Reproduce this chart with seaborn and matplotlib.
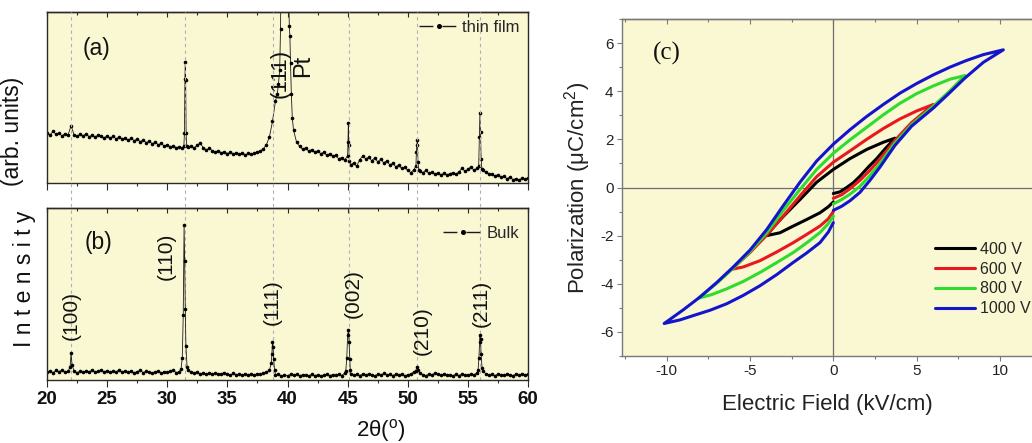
import numpy as np
import pandas as pd
import matplotlib
matplotlib.use("Agg")
import matplotlib.pyplot as plt
import seaborn as sns
from matplotlib.lines import Line2D
from matplotlib.ticker import MultipleLocator

# ---------------- data: XRD ----------------
scan_start, scan_step = 20.0, 0.25   # regular 2theta grid of the baseline readings

film_base = [
    29.5, 28.0, 30.2, 28.6,  29.0, 27.6, 28.9, 28.1,  33.5, 28.3, 27.2, 28.7,
    27.6, 28.8, 27.1, 28.0,  26.8, 28.1, 27.3, 26.4,  27.5, 26.2, 27.4, 25.8,
    26.9, 25.6, 26.3, 25.0,  26.1, 24.8, 25.7, 24.2,  25.2, 23.6, 24.5, 23.0,
    23.9, 22.4, 23.1, 21.6,  22.4, 21.0, 21.9, 20.6,  21.3, 20.2, 71.0, 21.0,
    21.8, 20.4, 22.3, 23.2,  20.6, 19.4, 20.3, 18.9,  18.2, 19.0, 17.6, 18.4,
    17.2, 18.1, 17.0, 17.8,  16.8, 17.6, 16.5, 17.3,  16.7, 17.5, 18.2, 18.8,
    20.0, 22.5, 27.0, 36.0,  48.0, 58.0, 150.0, 140.0, 145.0, 70.0, 31.0, 24.0,
    21.5, 19.8, 20.6, 18.7,  19.5, 18.0, 18.8, 17.2,  17.9, 16.4, 17.0, 15.6,
    16.1, 14.2, 14.9, 13.3,  16.0, 10.6, 11.8, 9.8,   13.6, 15.8, 14.2, 15.0,
    13.1, 14.6, 12.4, 13.9,  11.8, 12.9, 10.7, 11.5,  9.6, 10.4, 8.5, 9.1,
    7.4, 6.1, 7.6, 22.0,     6.9, 6.0, 7.4, 5.6,      6.3, 5.1, 5.9, 4.8,
    5.6, 4.6, 5.5, 6.1,      5.2, 6.3, 8.7, 6.9,      8.0, 9.5, 7.4, 8.6,
    41.0, 7.4, 6.2, 5.4,     5.0, 4.2, 4.9, 3.6,      3.9, 2.6, 3.4, 2.0,
    2.6, 1.7, 2.9, 2.2,      3.0,
]
film_peak_x = [31.38, 31.43, 31.47, 31.53, 31.57, 31.62,
               39.15, 39.35, 39.42, 40.15, 40.2, 40.32, 40.4,
               45.03, 45.06, 45.1, 45.15,
               50.68, 50.72, 50.8, 50.85, 50.92,
               55.9, 55.95, 56.05, 56.1, 56.17]
film_peak_y = [21.5, 29.0, 61.0, 60.0, 29.0, 21.5,
               52.0, 66.0, 90.0, 92.0, 86.0, 52.0, 38.0,
               24.0, 35.0, 22.0, 13.0,
               10.0, 18.0, 25.0, 12.0, 7.5,
               10.0, 27.0, 30.0, 14.0, 8.0]

bulk_base = [
    4.6, 5.3, 4.2, 5.6,  4.9, 5.8, 4.4, 5.1,  15.5, 5.2, 4.3, 5.0,
    4.5, 5.4, 4.8, 5.7,  4.6, 5.1, 5.9, 4.7,  5.5, 4.4, 5.2, 4.8,
    5.9, 4.5, 5.3, 4.4,  5.0, 4.2, 4.9, 5.6,  4.3, 5.1, 4.6, 4.0,
    4.8, 5.2, 4.1, 4.7,  4.4, 5.0, 5.7, 4.3,  4.8, 13.0, 41.0, 5.6,
    4.6, 3.8, 4.4, 3.6,  4.1, 3.3, 4.0, 3.5,  3.9, 3.2, 3.7, 4.3,
    3.4, 3.0, 3.8, 3.1,  3.6, 2.8, 3.4, 3.0,  3.7, 2.9, 3.5, 3.2,
    3.8, 4.4, 5.6, 22.0, 2.8, 3.3, 2.4, 3.0,  2.6, 3.2, 2.7, 3.4,
    2.5, 3.1, 2.8, 2.4,  3.2, 2.6, 3.0, 2.3,  2.9, 3.5, 2.6, 3.1,
    2.7, 3.3, 2.5, 4.0,  26.0, 3.4, 2.8, 3.2, 2.6, 3.4, 2.9, 3.6,
    3.1, 2.5, 3.3, 2.7,  3.8, 2.9, 3.2, 2.6,  3.4, 2.8, 3.6, 2.5,
    3.0, 3.5, 4.6, 7.8,  4.2, 3.1, 2.6, 3.3,  2.9, 4.0, 3.2, 2.7,
    3.5, 2.8, 3.1, 2.5,  3.3, 2.6, 3.4, 3.0,  2.7, 3.4, 2.9, 4.2,
    26.0, 5.0, 3.6, 2.9, 3.3, 2.6, 3.4, 3.0,  2.8, 3.5, 3.1, 2.6,
    3.4, 2.9, 3.6, 3.1,  3.3,
]
bulk_peak_x = [21.92, 22.08,
               31.15, 31.33, 31.4, 31.45, 31.55, 31.65,
               38.65, 38.7, 38.8, 38.85, 38.92,
               44.85, 44.93, 45.06, 45.12, 45.18, 45.22,
               50.68, 50.82,
               55.85, 55.92, 55.97, 56.05, 56.1, 56.18]
bulk_peak_y = [7.5, 9.0,
               6.5, 38.0, 90.0, 69.0, 20.0, 7.5,
               10.0, 15.0, 19.0, 12.0, 6.0,
               5.5, 13.0, 29.0, 22.0, 12.0, 6.0,
               5.5, 6.0,
               6.0, 13.0, 22.0, 24.0, 15.0, 7.0]

ref_lines = [22.0, 31.5, 38.8, 45.1, 50.8, 56.0]
bulk_labels = ["(100)", "(110)", "(111)", "(002)", "(210)", "(211)"]
bulk_label_x = [22.0, 29.9, 38.7, 45.5, 51.2, 56.1]
bulk_label_y = [23, 58, 32, 36, 14.5, 31]
film_labels = ["(111)", "Pt"]
film_label_x = [39.4, 41.3]
film_label_y = [50, 62]

# ---------------- data: P-E loops ----------------
voltages = ["400 V", "600 V", "800 V", "1000 V"]
loop_colors = ["#000000", "#E8191E", "#2EDC2E", "#1414CC"]

E_400 = [0, 0.4, 0.8, 1.2, 1.6, 2.1, 2.6, 3.1, 3.7, 3.0, 2.0, 1.0, 0, -1.0, -2.0,
         -3.0, -3.6, -4.0, -3.2, -2.4, -1.6, -0.8, -0.3, 0]
P_400 = [-0.25, -0.18, 0.0, 0.2, 0.47, 0.85, 1.2, 1.6, 2.05, 1.88, 1.58, 1.2, 0.75,
         0.22, -0.5, -1.2, -1.65, -2.0, -1.88, -1.6, -1.33, -1.05, -0.8, -0.6]

E_600 = [0, 0.5, 1.0, 1.6, 2.2, 2.8, 3.7, 4.7, 6.0, 5.0, 4.0, 3.0, 2.0, 1.0, 0,
         -1.0, -2.0, -3.0, -4.0, -5.0, -6.1, -5.4, -4.4, -3.4, -2.4, -1.6, -0.8, -0.3, 0]
P_600 = [-0.45, -0.3, -0.05, 0.3, 0.72, 1.18, 1.96, 2.7, 3.45, 3.18, 2.85, 2.45, 2.0,
         1.52, 1.05, 0.45, -0.35, -1.18, -1.98, -2.7, -3.4, -3.3, -3.04, -2.68, -2.29,
         -1.95, -1.6, -1.3, -1.0]

E_800 = [0, 0.5, 1.0, 1.6, 2.2, 2.8, 3.7, 4.7, 6.0, 7.0, 7.9, 7.0, 6.0, 5.0, 4.0,
         3.0, 2.0, 1.0, 0, -1.0, -2.0, -3.0, -4.0, -5.0, -6.0, -7.0, -8.1, -7.3,
         -6.4, -5.4, -4.4, -3.4, -2.4, -1.6, -0.8, -0.3, 0]
P_800 = [-0.68, -0.5, -0.28, 0.05, 0.5, 1.0, 1.85, 2.62, 3.38, 4.02, 4.65, 4.5,
         4.22, 3.9, 3.5, 3.02, 2.5, 1.98, 1.42, 0.75, -0.08, -0.95, -1.88, -2.66,
         -3.35, -3.98, -4.6, -4.45, -4.21, -3.9, -3.53, -3.12, -2.7, -2.3, -1.87,
         -1.5, -1.19]

E_1000 = [0, 0.5, 1.0, 1.6, 2.2, 2.8, 3.7, 4.7, 6.0, 7.0, 7.9, 9.0, 10.2, 9.0, 8.0,
          7.0, 6.0, 5.0, 4.0, 3.0, 2.0, 1.0, 0, -1.0, -2.0, -3.0, -4.0, -5.0, -6.0,
          -7.0, -8.0, -9.0, -10.15, -9.2, -8.4, -7.4, -6.4, -5.4, -4.4, -3.4, -2.4,
          -1.6, -0.8, -0.3, 0]
P_1000 = [-0.95, -0.78, -0.55, -0.2, 0.3, 0.85, 1.75, 2.55, 3.3, 3.95, 4.55, 5.2, 5.72,
          5.52, 5.28, 5.0, 4.68, 4.32, 3.92, 3.45, 2.95, 2.4, 1.8, 1.1, 0.22, -0.75,
          -1.75, -2.6, -3.3, -3.95, -4.55, -5.08, -5.65, -5.5, -5.32, -5.1, -4.83,
          -4.48, -4.08, -3.62, -3.11, -2.72, -2.29, -1.85, -1.46]

loops_E = [E_400, E_600, E_800, E_1000]
loops_P = [P_400, P_600, P_800, P_1000]

# ---------------- style ----------------
sns.set_style("ticks")
plt.rcParams['font.family'] = ['Liberation Sans', 'DejaVu Sans']
plt.rcParams['axes.unicode_minus'] = False
plt.rcParams['mathtext.fontset'] = 'custom'
plt.rcParams['mathtext.rm'] = 'Liberation Sans'
plt.rcParams['mathtext.it'] = 'Liberation Sans:italic'
plt.rcParams['mathtext.bf'] = 'Liberation Sans:bold'

BG = '#FAF7D3'
W, H = 1032, 443
fig = plt.figure(figsize=(W / 100, H / 100), dpi=100)


def rect(l, t, r, b):
    return [l / W, 1 - b / H, (r - l) / W, (b - t) / H]


ax_a = fig.add_axes(rect(47, 12, 528, 183))
ax_b = fig.add_axes(rect(47, 208, 528, 380))
ax_c = fig.add_axes(rect(622, 19, 1032, 356))


def top_ticks(ax, major, minor, color, lmaj, lmin):
    sec = ax.secondary_xaxis('top')
    sec.xaxis.set_major_locator(MultipleLocator(major))
    sec.xaxis.set_minor_locator(MultipleLocator(minor))
    sec.tick_params(axis='x', which='major', direction='in', length=lmaj, width=0.8,
                    color=color, labeltop=False, top=True)
    sec.tick_params(axis='x', which='minor', direction='in', length=lmin, width=0.8,
                    color=color, top=True)
    sec.set_xticklabels([])
    sec.spines['top'].set_color(color)
    sec.spines['top'].set_linewidth(1.0)
    return sec


def scan(base, px, py):
    x = scan_start + scan_step * np.arange(len(base))
    df = pd.DataFrame({"two_theta": np.concatenate([x, px]),
                       "I": np.concatenate([base, py])})
    return df.sort_values("two_theta").reset_index(drop=True)


spine_dark = '#2a2a2a'
for ax, base, px, py in [(ax_a, film_base, film_peak_x, film_peak_y),
                         (ax_b, bulk_base, bulk_peak_x, bulk_peak_y)]:
    ax.set_facecolor(BG)
    df = scan(base, px, py)
    sns.lineplot(data=df, x="two_theta", y="I", ax=ax, color='#1a1a1a',
                 linewidth=0.6, marker='o', markersize=2.6, mfc='black', mec='black',
                 markeredgewidth=0, estimator=None, sort=True, legend=False)
    ax.set_xlim(20, 60)
    ax.set_ylim(0, 100)
    ax.set_yticks([])
    ax.set_xlabel("")
    ax.set_ylabel("")
    ax.xaxis.set_major_locator(MultipleLocator(5))
    ax.xaxis.set_minor_locator(MultipleLocator(2.5))
    ax.tick_params(axis='x', which='major', direction='out', length=4.8, width=0.8,
                   color=spine_dark, bottom=True, top=False, pad=3.0)
    ax.tick_params(axis='x', which='minor', direction='out', length=2.4, width=0.8,
                   color=spine_dark, bottom=True, top=False)
    for s in ax.spines.values():
        s.set_color(spine_dark)
        s.set_linewidth(1.0)
    top_ticks(ax, 5, 2.5, spine_dark, 3.6, 1.8)

ax_a.tick_params(axis='x', labelbottom=False)
for lab in ax_b.get_xticklabels():
    lab.set_fontweight('bold')
    lab.set_fontsize(13.5)
    lab.set_color('#111111')

# reference dashed lines across both XRD panels
span = (380 - 12) / 172
for x in ref_lines:
    ax_b.axvline(x, ymin=0, ymax=span, clip_on=False, color='#b0b0b0',
                 lw=0.8, ls=(0, (3, 3)), zorder=0.5)

for t, x, y in zip(bulk_labels, bulk_label_x, bulk_label_y):
    ax_b.text(x, y, t, rotation=90, ha='center', va='bottom', fontsize=15,
              color='#111111')
for t, x, y, fs in zip(film_labels, film_label_x, film_label_y, [16, 17]):
    ax_a.text(x, y, t, rotation=90, ha='center', va='bottom', fontsize=fs,
              color='#111111')

ax_a.text(0.102, 0.784, "(a)", transform=ax_a.transAxes, ha='center', va='center',
          fontsize=16.5, color='#111111')
ax_b.text(0.108, 0.802, "(b)", transform=ax_b.transAxes, ha='center', va='center',
          fontsize=16.5, color='#111111')

xrd_handle = Line2D([], [], color='#1a1a1a', lw=1.0, ls=(0, (10.0, 6.5)),
                    marker='o', markersize=2.6, mfc='black', mec='black')
ax_a.legend([xrd_handle], ["thin film"], loc='center left',
            bbox_to_anchor=((419 - 47) / 481, (183 - 27) / 171), frameon=False,
            fontsize=12, handlelength=2.35, handletextpad=0.25, borderpad=0,
            borderaxespad=0, numpoints=1)
ax_b.legend([xrd_handle], ["Bulk"], loc='center left',
            bbox_to_anchor=((443 - 47) / 481, (380 - 233) / 172), frameon=False,
            fontsize=12, handlelength=2.35, handletextpad=0.25, borderpad=0,
            borderaxespad=0, numpoints=1)

fig.text(13 / W, 1 - 131 / H, "(arb. units)", rotation=90, ha='center',
         va='center', fontsize=16.5, color='#111111')
fig.text(24 / W, 1 - 279 / H, "I n t e n s i t y", rotation=90, ha='center',
         va='center', fontsize=16.5, color='#111111')
fig.text(381 / W, 1 - 430 / H, "2θ($^{\\mathrm{o}}$)", ha='center', va='center',
         fontsize=16, color='#111111')

# ---------------- P-E loops ----------------
grey = '#7a7a7a'
ax_c.set_facecolor(BG)
ax_c.axhline(0, color='#6e6e6e', lw=0.9, zorder=1)
ax_c.axvline(0, color='#6e6e6e', lw=0.9, zorder=1)
for lab, E, P, col in zip(voltages, loops_E, loops_P, loop_colors):
    d = pd.DataFrame({"E": E, "P": P})
    sns.lineplot(data=d, x="E", y="P", ax=ax_c, sort=False, estimator=None,
                 color=col, linewidth=2.2, legend=False,
                 solid_joinstyle='round', solid_capstyle='round')
ax_c.set_xlim(-12.68, 11.92)
ax_c.set_ylim(-7, 7)
ax_c.xaxis.set_major_locator(MultipleLocator(5))
ax_c.xaxis.set_minor_locator(MultipleLocator(2.5))
ax_c.yaxis.set_major_locator(MultipleLocator(2))
ax_c.yaxis.set_minor_locator(MultipleLocator(1))
ax_c.tick_params(which='major', direction='out', length=3.6, width=0.8, color=grey,
                 labelsize=11, labelcolor='#222222', pad=2.5)
ax_c.tick_params(which='minor', direction='out', length=1.9, width=0.8, color=grey)
ax_c.tick_params(axis='x', which='both', top=False)
ax_c.tick_params(axis='y', which='both', right=False)
for k in ['left', 'bottom', 'top']:
    ax_c.spines[k].set_color(grey)
    ax_c.spines[k].set_linewidth(1.0)
ax_c.spines['right'].set_visible(False)
top_ticks(ax_c, 5, 2.5, grey, 3.6, 1.9)

ax_c.set_xlabel("Electric Field (kV/cm)", fontsize=16, color='#222222', labelpad=11)
ax_c.set_ylabel("Polarization (μC/cm$^2$)", fontsize=16, color='#222222', labelpad=5)
ax_c.text(0.11, 0.899, "(c)", transform=ax_c.transAxes, ha='center', va='center',
          fontsize=18, family=['Liberation Serif', 'DejaVu Serif'], color='#111111')

handles = [Line2D([], [], color=c, lw=2.2) for c in loop_colors]
ax_c.legend(handles, voltages, loc='center left',
            bbox_to_anchor=((935 - 622) / 410, (356 - 279) / 337), frameon=False,
            fontsize=11.5, handlelength=2.5, handletextpad=0.3, labelspacing=0.3,
            borderpad=0, borderaxespad=0)

fig.savefig("out.png", dpi=100, facecolor='white')
